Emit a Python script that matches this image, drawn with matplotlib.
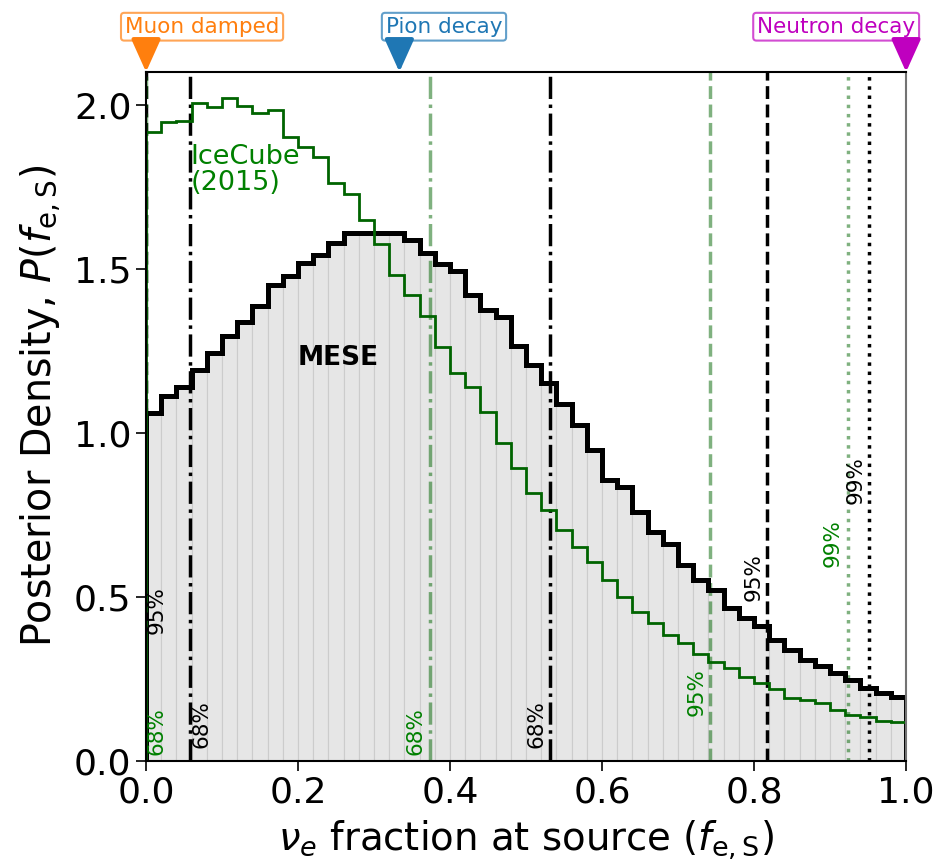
import numpy as np
import matplotlib
matplotlib.use('Agg')
import matplotlib.pyplot as plt

# bin edges: 50 bins of width 0.02 on [0, 1]
edges = np.linspace(0.0, 1.0, 51)

mese = [1.062, 1.111, 1.141, 1.192, 1.243, 1.296, 1.339, 1.388, 1.451, 1.477,
        1.518, 1.543, 1.579, 1.609, 1.609, 1.609, 1.609, 1.588, 1.548, 1.515,
        1.492, 1.421, 1.375, 1.352, 1.266, 1.207, 1.152, 1.087, 1.024, 0.948,
        0.857, 0.834, 0.760, 0.697, 0.662, 0.598, 0.552, 0.521, 0.466, 0.435,
        0.410, 0.369, 0.338, 0.308, 0.288, 0.267, 0.247, 0.222, 0.206, 0.196]

icecube = [1.917, 1.947, 1.952, 2.005, 1.993, 2.020, 1.995, 1.975, 1.983, 1.901,
           1.870, 1.842, 1.763, 1.729, 1.649, 1.575, 1.480, 1.421, 1.355, 1.263,
           1.182, 1.141, 1.063, 0.969, 0.892, 0.816, 0.764, 0.704, 0.652, 0.608,
           0.552, 0.501, 0.455, 0.420, 0.384, 0.359, 0.326, 0.303, 0.283, 0.257,
           0.239, 0.219, 0.191, 0.186, 0.176, 0.155, 0.140, 0.133, 0.123, 0.120]

# credible interval bounds
mese_68 = [0.058, 0.532]
mese_95 = [0.0, 0.817]
mese_99 = [0.951]
ice_68 = [0.0, 0.374]
ice_95 = [0.742]
ice_99 = [0.923]

# interval labels: (text, x, y, colour)
ci_labels = [
    ('68%', 0.014, 0.091, 'green'),
    ('95%', 0.014, 0.460, 'k'),
    ('68%', 0.073, 0.113, 'k'),
    ('68%', 0.354, 0.091, 'green'),
    ('68%', 0.514, 0.113, 'k'),
    ('95%', 0.725, 0.210, 'green'),
    ('95%', 0.799, 0.561, 'k'),
    ('99%', 0.904, 0.665, 'green'),
    ('99%', 0.933, 0.857, 'k'),
]

# source hypotheses on top: (name, f_e,S, label x, colour)
sources = [
    ('Muon damped', 0.0, 0.0737, 'tab:orange'),
    ('Pion decay', 1.0 / 3.0, 0.392, 'tab:blue'),
    ('Neutron decay', 1.0, 0.908, 'm'),
]

YMAX = 2.1

fig = plt.figure(figsize=(9.41, 8.59), dpi=100)
ax = fig.add_axes([0.1552, 0.1141, 0.8077, 0.8021])

centers = 0.5 * (edges[:-1] + edges[1:])
ax.bar(centers, mese, width=np.diff(edges), color='0.9', edgecolor='0.8',
       linewidth=0.8, zorder=1)

for x in mese_68:
    ax.axvline(x, color='k', ls='-.', lw=2.5, zorder=2)
for x in mese_95:
    ax.axvline(x, color='k', ls='--', lw=2.5, zorder=2)
for x in mese_99:
    ax.axvline(x, color='k', ls=':', lw=2.5, zorder=2)
for x in ice_68:
    ax.axvline(x, color='darkgreen', alpha=0.5, ls='-.', lw=2.5, zorder=2)
for x in ice_95:
    ax.axvline(x, color='darkgreen', alpha=0.5, ls='--', lw=2.5, zorder=2)
for x in ice_99:
    ax.axvline(x, color='darkgreen', alpha=0.5, ls=':', lw=2.5, zorder=2)

ax.stairs(mese, edges, color='k', lw=3.6, zorder=3)
ax.stairs(icecube, edges, color='darkgreen', lw=2.0, zorder=4)

for txt, x, y, c in ci_labels:
    ax.text(x, y, txt, rotation=90, color=c, fontsize=15.5,
            ha='center', va='center', zorder=5)

ax.text(0.253, 1.228, 'MESE', fontsize=19, fontweight='bold',
        ha='center', va='center', zorder=5)
ax.text(0.058, 1.80, 'IceCube\n(2015)', fontsize=19.5, color='green',
        ha='left', va='center', linespacing=1.0, zorder=5)

box_y = 2.238
for name, fx, tx, c in sources:
    ec = matplotlib.colors.to_rgba(c, 0.7)
    ax.text(tx, box_y, name, color=c, fontsize=15.5, ha='center', va='center',
            clip_on=False,
            bbox=dict(boxstyle='round,pad=0.18,rounding_size=0.15',
                      fc='white', ec=ec, lw=1.5))
    ax.annotate('', xy=(fx, YMAX), xytext=(fx, 2.198),
                annotation_clip=False,
                arrowprops=dict(arrowstyle='-|>,head_length=1.0,head_width=0.45',
                                color=c, lw=3, mutation_scale=20,
                                shrinkA=0, shrinkB=0))

ax.set_xlim(0, 1)
ax.set_ylim(0, YMAX)
ax.set_xticks([0.0, 0.2, 0.4, 0.6, 0.8, 1.0])
ax.set_yticks([0.0, 0.5, 1.0, 1.5, 2.0])
ax.xaxis.set_major_formatter(matplotlib.ticker.FormatStrFormatter('%.1f'))
ax.yaxis.set_major_formatter(matplotlib.ticker.FormatStrFormatter('%.1f'))
ax.tick_params(labelsize=26, length=7, width=1.2)
ax.spines['right'].set_color('0.45')
for s in ax.spines.values():
    s.set_linewidth(1.5)
    s.set_zorder(6)

ax.set_xlabel(r'$\nu_e$ fraction at source ($f_{\rm e,S}$)', fontsize=27.8,
              labelpad=6)
ax.set_ylabel(r'Posterior Density, $P(f_{\rm e,S})$', fontsize=28.5,
              labelpad=8)
ax.yaxis.label.set_y(0.515)

fig.savefig('out.png', dpi=100)
